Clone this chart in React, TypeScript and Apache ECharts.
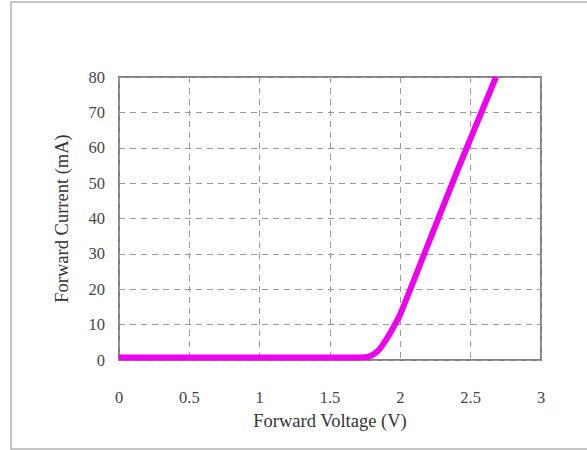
import React, { useEffect, useRef } from "react";
import * as echarts from "echarts";

const voltage = [0, 0.5, 1.0, 1.5, 1.75, 1.8, 1.85, 1.9, 1.95, 2.0, 2.2, 2.4, 2.68];
const current = [0.7, 0.7, 0.7, 0.7, 0.8, 1.4, 3.0, 5.8, 9.2, 13, 33, 53, 80];
const xTicks = [0, 0.5, 1, 1.5, 2, 2.5, 3];
const yTicks = [0, 10, 20, 30, 40, 50, 60, 70, 80];
const xName = "Forward Voltage (V)";
const yName = "Forward Current (mA)";

const FONT = "'Liberation Serif', 'Times New Roman', serif";

export default function App() {
  const ref = useRef<HTMLDivElement>(null);
  useEffect(() => {
    if (!ref.current) return;
    const chart = echarts.init(ref.current, undefined, { renderer: "svg" });
    chart.setOption({
      animation: false,
      backgroundColor: "#ffffff",
      graphic: [
        {
          type: "rect",
          shape: { x: 11, y: 2, width: 600, height: 447 },
          style: { fill: "none", stroke: "#b4b4b4", lineWidth: 1.5 },
          silent: true,
        },
      ],
      grid: {
        left: 119,
        right: 46,
        top: 77,
        bottom: 90,
        show: true,
        borderColor: "#808080",
        borderWidth: 2,
        backgroundColor: "#ffffff",
      },
      xAxis: {
        type: "value",
        min: 0,
        max: 3,
        interval: 0.5,
        name: xName,
        nameLocation: "middle",
        nameGap: 51,
        nameTextStyle: { fontFamily: FONT, fontSize: 18.5, color: "#333" },
        axisLine: { show: false },
        axisTick: { show: false },
        axisLabel: {
          margin: 29,
          fontFamily: FONT,
          fontSize: 16.5,
          color: "#444",
          formatter: (v: number) => (xTicks.includes(v) ? String(v) : ""),
        },
        splitLine: {
          show: true,
          lineStyle: { color: "#9a9a9a", type: [6, 5], width: 1 },
        },
      },
      yAxis: {
        type: "value",
        min: 0,
        max: 80,
        interval: 10,
        name: yName,
        nameLocation: "middle",
        nameGap: 48,
        nameTextStyle: { fontFamily: FONT, fontSize: 18.5, color: "#333" },
        axisLine: { show: false },
        axisTick: { show: false },
        axisLabel: {
          margin: 14,
          fontFamily: FONT,
          fontSize: 16.5,
          color: "#444",
          formatter: (v: number) => (yTicks.includes(v) ? String(v) : ""),
        },
        splitLine: {
          show: true,
          lineStyle: { color: "#9a9a9a", type: [6, 5], width: 1 },
        },
      },
      series: [
        {
          type: "line",
          data: voltage.map((v, i) => [v, current[i]]),
          smooth: 0.3,
          showSymbol: false,
          clip: true,
          lineStyle: { color: "#ee00ee", width: 6 },
        },
      ],
    });
    return () => chart.dispose();
  }, []);
  return (
    <div
      ref={ref}
      style={{ position: "fixed", left: 0, top: 0, width: 587, height: 450, background: "#fff" }}
    />
  );
}
